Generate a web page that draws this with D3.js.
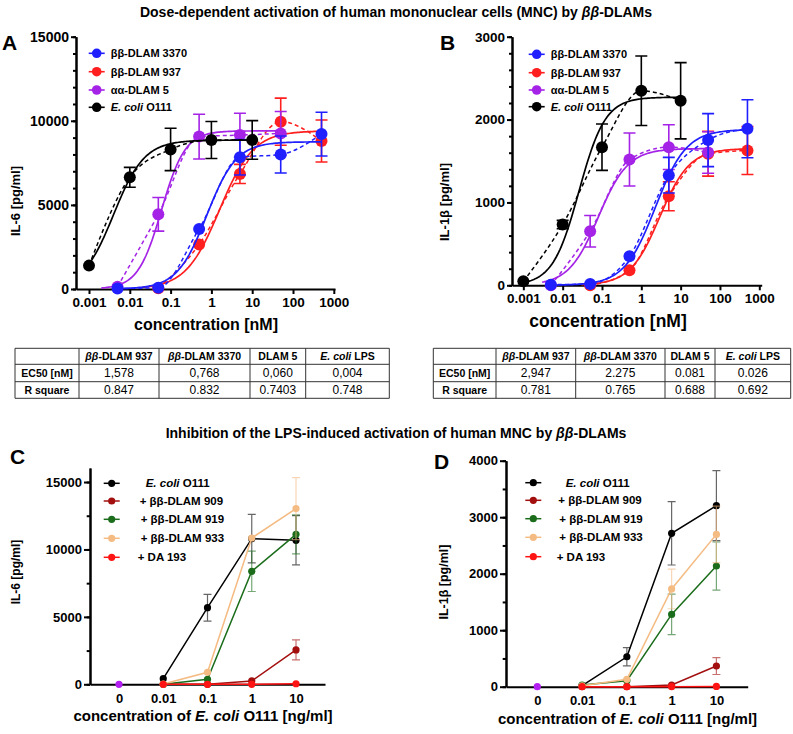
<!DOCTYPE html>
<html>
<head>
<meta charset="utf-8">
<script src="https://cdn.jsdelivr.net/npm/d3@7"></script>
<style>
  body { margin: 0; background: #fff; }
  svg { display: block; font-family: "Liberation Sans", Arial, sans-serif; }
</style>
</head>
<body>
<svg id="fig" width="793" height="734"></svg>
<script>
// ---------- data: panels A and B (dose response) ----------
const namesAB = ["ββ-DLAM 3370", "ββ-DLAM 937", " αα-DLAM 5", "E. coli O111"];
const colorsAB = ["#1f1fff", "#ff1f1f", "#a423e6", "#000000"];
const conc3370 = [0.005, 0.05, 0.5, 5, 50, 500];
const conc937 = [0.05, 0.5, 5, 50, 500];
const concD5 = [0.005, 0.05, 0.5, 5, 50];
const concEcoli = [0.001, 0.01, 0.1, 1, 10];
const xTicksAB = [0.001, 0.01, 0.1, 1, 10, 100, 1000];

// A: IL-6 [pg/ml]
const a3370 = [30, 80, 3570, 7830, 8000, 9210];
const a3370Err = [0, 0, 0, 1050, 1100, 1300];
const a937 = [40, 2650, 6840, 9950, 8800];
const a937Err = [0, 0, 570, 1400, 1250];
const aD5 = [140, 4440, 9060, 9150, 9250];
const aD5Err = [0, 1000, 1330, 1300, 1300];
const aEcoli = [1390, 6640, 8300, 8860, 8860];
const aEcoliErr = [0, 590, 1260, 1100, 1150];
// fitted sigmoid parameters (3370, 937, DLAM 5, E. coli)
const aTop = [8750, 9400, 9400, 8850];
const aEc50 = [0.768, 1.578, 0.060, 0.004];
const aHill = [1.2, 1.05, 1.5, 1.15];
const aFrom = [0.005, 0.02, 0.002, 0.001];
const aTo = [500, 500, 50, 10];

// B: IL-1β [pg/ml]
const b3370 = [8, 16, 350, 1329, 1752, 1889];
const b3370Err = [0, 0, 0, 215, 320, 350];
const b937 = [0, 181, 1075, 1587, 1627];
const b937Err = [0, 0, 175, 270, 290];
const bD5 = [0, 652, 1518, 1667, 1603];
const bD5Err = [0, 190, 320, 270, 250];
const bEcoli = [48, 733, 1667, 2348, 2227];
const bEcoliErr = [0, 50, 280, 420, 460];
const bTop = [1880, 1650, 1650, 2270];
const bEc50 = [2.275, 2.947, 0.081, 0.026];
const bHill = [1.1, 1.15, 1.15, 1.3];
const bFrom = [0.005, 0.03, 0.003, 0.001];
const bTo = [500, 500, 50, 10];

// tables under A and B
const tableCols = ["", "ββ-DLAM 937", "ββ-DLAM 3370", "DLAM 5", "E. coli LPS"];
const tableRows = ["EC50 [nM]", "R square"];
const tableA_ec50 = ["1,578", "0,768", "0,060", "0,004"];
const tableA_r2 = ["0.847", "0.832", "0.7403", "0.748"];
const tableB_ec50 = ["2,947", "2.275", "0.081", "0.026"];
const tableB_r2 = ["0.781", "0.765", "0.688", "0.692"];

// ---------- data: panels C and D (inhibition) ----------
const catsCD = ["0", "0.01", "0.1", "1", "10"];
const catsLps = ["0.01", "0.1", "1", "10"];
const namesCD = ["E. coli O111", "+ ββ-DLAM 909", "+ ββ-DLAM 919", "+ ββ-DLAM 933", "+ DA 193"];
const colorsCD = ["#000000", "#a30f0f", "#1b6d1b", "#f4bb83", "#ff1414"];
const ctrlColor = "#b21ff0";

const cEcoli = [420, 5680, 10800, 10680], cEcoliErr = [0, 990, 1800, 1830];
const c909 = [0, 0, 250, 2550], c909Err = [0, 0, 0, 740];
const c919 = [0, 370, 8380, 11120], c919Err = [0, 0, 1500, 1450];
const c933 = [20, 890, 10850, 13030], c933Err = [0, 0, 0, 2300];
const cDA = [0, 0, 0, 40], cDAErr = [0, 0, 0, 0];
const cCtrl = [0];

const dEcoli = [18, 530, 2714, 3204], dEcoliErr = [0, 160, 560, 620];
const d909 = [0, 0, 30, 366], d909Err = [0, 0, 0, 150];
const d919 = [30, 106, 1280, 2136], d919Err = [0, 0, 360, 425];
const d933 = [15, 130, 1730, 2696], d933Err = [0, 0, 350, 500];
const dDA = [0, 0, 0, 5], dDAErr = [0, 0, 0, 0];
const dCtrl = [0];

// ---------- helpers ----------
const svg = d3.select("#fig");
svg.append("rect").attr("width", 793).attr("height", 734).attr("fill", "#fff");

// writes text with ββ / E. coli parts in italics
function richText(sel, str, pattern) {
  str.split(pattern).forEach((part, i) => {
    if (!part) return;
    sel.append("tspan")
      .style("font-style", i % 2 === 1 ? "italic" : "normal")
      .text(part);
  });
}

function styleAxis(g, size) {
  g.select(".domain").attr("stroke", "#000").attr("stroke-width", 2);
  g.selectAll(".tick line").attr("stroke", "#000").attr("stroke-width", 2);
  g.selectAll(".tick text")
    .attr("fill", "#000")
    .style("font-size", size + "px")
    .style("font-weight", "bold");
}

function addText(x, y, str, size, opts = {}) {
  const t = svg.append("text")
    .attr("x", x).attr("y", y)
    .attr("text-anchor", opts.anchor || "start")
    .style("font-size", size + "px")
    .style("font-weight", opts.weight || "bold")
    .attr("fill", "#000");
  if (opts.rotate) t.attr("transform", `rotate(-90,${x},${y})`);
  richText(t, str, opts.pattern || /(ββ|E\. coli)/);
  return t;
}

const plain = d3.format("d");

// ---------- titles ----------
addText(396, 17, "Dose-dependent activation of human mononuclear cells (MNC) by ββ-DLAMs", 14, { anchor: "middle", pattern: /(ββ)/ });
addText(396, 438, "Inhibition of the LPS-induced activation of human MNC by ββ-DLAMs", 14, { anchor: "middle", pattern: /(ββ)/ });

// ---------- dose response panels ----------
function dosePanel(p) {
  const x = d3.scaleLog().domain(p.xDomain).range(p.xRange);
  const y = d3.scaleLinear().domain([0, p.yMax]).range(p.yRange);

  const gx = svg.append("g")
    .attr("transform", `translate(0,${p.yRange[0]})`)
    .call(d3.axisBottom(x).tickValues(xTicksAB).tickFormat(d => String(d)).tickSize(5).tickSizeOuter(0).tickPadding(3));
  styleAxis(gx, 13.5);

  const gyMinor = svg.append("g")
    .attr("transform", `translate(${p.xRange[0]},0)`)
    .call(d3.axisLeft(y).tickValues(d3.range(0, p.yMax + 1, p.yMinor)).tickFormat("").tickSize(3).tickSizeOuter(0));
  styleAxis(gyMinor, 12);
  const gy = svg.append("g")
    .attr("transform", `translate(${p.xRange[0]},0)`)
    .call(d3.axisLeft(y).tickValues(d3.range(0, p.yMax + 1, p.yMajor)).tickFormat(plain).tickSize(5).tickSizeOuter(0).tickPadding(2));
  styleAxis(gy, p.yFont);

  const solid = d3.line().x(d => x(d[0])).y(d => y(d[1]));
  const dashed = d3.line().curve(d3.curveMonotoneX).x(d => x(d[0])).y(d => y(d[1]));

  p.order.forEach(i => {
    const s = p.series[i];
    const g = svg.append("g");
    const samples = d3.range(121).map(k => {
      const c = s.from * Math.pow(s.to / s.from, k / 120);
      return [c, s.top / (1 + Math.pow(s.ec50 / c, s.hill))];
    });
    g.append("path").attr("d", solid(samples))
      .attr("fill", "none").attr("stroke", s.color).attr("stroke-width", 1.7);
    const pts = s.x.map((c, k) => [c, s.y[k]]);
    g.append("path").attr("d", dashed(pts))
      .attr("fill", "none").attr("stroke", s.color).attr("stroke-width", 1.5)
      .attr("stroke-dasharray", "4,3");
    s.x.forEach((c, k) => {
      if (!s.err[k]) return;
      const cx = x(c), y1 = y(s.y[k] + s.err[k]), y0 = y(s.y[k] - s.err[k]);
      g.append("path")
        .attr("d", `M${cx},${y0}V${y1}M${cx - 6},${y1}H${cx + 6}M${cx - 6},${y0}H${cx + 6}`)
        .attr("stroke", s.color).attr("stroke-width", 1.6).attr("fill", "none");
    });
    g.selectAll("circle").data(pts).join("circle")
      .attr("cx", d => x(d[0])).attr("cy", d => y(d[1]))
      .attr("r", 6).attr("fill", s.color);
  });

  // legend
  p.series.forEach((s, i) => {
    const ly = p.legY[i];
    svg.append("line")
      .attr("x1", p.legX - 8).attr("x2", p.legX + 8).attr("y1", ly).attr("y2", ly)
      .attr("stroke", s.color).attr("stroke-width", 1.6);
    svg.append("circle").attr("cx", p.legX).attr("cy", ly).attr("r", 4.8).attr("fill", s.color);
    addText(p.legX + 14, ly + 4, s.name, 11, { pattern: /(E\. coli)/ });
  });

  addText(p.letter[0], p.letter[1], p.letter[2], 21);
  addText(p.yLab[0], p.yLab[1], p.yLab[2], 13, { anchor: "middle", rotate: true });
  addText(p.xLab[0], p.xLab[1], "concentration [nM]", p.xLab[2], { anchor: "middle" });
}

function seriesAB(vals, errs, top, ec50, hill, from, to) {
  const xs = [conc3370, conc937, concD5, concEcoli];
  return namesAB.map((n, i) => ({
    name: n, color: colorsAB[i], x: xs[i], y: vals[i], err: errs[i],
    top: top[i], ec50: ec50[i], hill: hill[i], from: from[i], to: to[i]
  }));
}

dosePanel({
  xDomain: [0.001 * Math.pow(10, -13 / 40.8), 1000 * Math.pow(10, 1.2 / 40.8)],
  xRange: [76, 335], yRange: [289, 36.7], yMax: 15000, yMajor: 5000, yMinor: 1000, yFont: 14,
  series: seriesAB([a3370, a937, aD5, aEcoli], [a3370Err, a937Err, aD5Err, aEcoliErr], aTop, aEc50, aHill, aFrom, aTo),
  order: [1, 2, 0, 3],
  legX: 96.7, legY: [53.3, 71.7, 90, 107.3],
  letter: [2, 50, "A"], yLab: [20, 201, "IL-6 [pg/ml]"], xLab: [206, 330, 16]
});

dosePanel({
  xDomain: [0.001 * Math.pow(10, -11.3 / 39.2), 1000 * Math.pow(10, 2.4 / 39.2)],
  xRange: [512, 761.7], yRange: [285.3, 36.7], yMax: 3000, yMajor: 1000, yMinor: 200, yFont: 13.5,
  series: seriesAB([b3370, b937, bD5, bEcoli], [b3370Err, b937Err, bD5Err, bEcoliErr], bTop, bEc50, bHill, bFrom, bTo),
  order: [1, 2, 0, 3],
  legX: 536.7, legY: [54.3, 72.7, 90, 106.7],
  letter: [440, 50, "B"], yLab: [449, 202, "IL-1β [pg/ml]"], xLab: [608, 327, 17.5]
});

// ---------- tables ----------
function drawTable(colX, rowY, ec50, r2) {
  const g = svg.append("g");
  colX.forEach(cx => g.append("line").attr("x1", cx).attr("x2", cx)
    .attr("y1", rowY[0]).attr("y2", rowY[rowY.length - 1]).attr("stroke", "#333").attr("stroke-width", 1));
  rowY.forEach(ry => g.append("line").attr("x1", colX[0]).attr("x2", colX[colX.length - 1])
    .attr("y1", ry).attr("y2", ry).attr("stroke", "#333").attr("stroke-width", 1));
  const mid = k => (colX[k] + colX[k + 1]) / 2;
  const rmid = r => (rowY[r] + rowY[r + 1]) / 2;
  tableCols.forEach((c, k) => {
    if (c) addText(mid(k), rmid(0) + 3.8, c, 10.5, { anchor: "middle" });
  });
  tableRows.forEach((r, j) => {
    addText(mid(0), rmid(j + 1) + 3.8, r, 10.5, { anchor: "middle" });
    const vals = j === 0 ? ec50 : r2;
    vals.forEach((v, k) => addText(mid(k + 1), rmid(j + 1) + 4.2, v, 12, { anchor: "middle", weight: "normal" }));
  });
}
drawTable([15, 79, 159, 250, 305.7, 389.3], [348.3, 364.3, 381.7, 398.3], tableA_ec50, tableA_r2);
drawTable([433.3, 496, 575.7, 665, 715, 790.7], [348.3, 364.3, 381.7, 398.3], tableB_ec50, tableB_r2);

// ---------- inhibition panels ----------
function inhibPanel(p) {
  const x = d3.scalePoint().domain(catsCD).range(p.xRange).padding(p.pad);
  const y = d3.scaleLinear().domain([0, p.yTop]).range(p.yRange);

  const gx = svg.append("g")
    .attr("transform", `translate(0,${p.yRange[0]})`)
    .call(d3.axisBottom(x).tickSize(0).tickSizeOuter(0).tickPadding(9));
  styleAxis(gx, 13);

  const gyMinor = svg.append("g")
    .attr("transform", `translate(${p.xRange[0]},0)`)
    .call(d3.axisLeft(y).tickValues(d3.range(0, p.yMax + 1, p.yMinor)).tickFormat("").tickSize(3.3).tickSizeOuter(0));
  styleAxis(gyMinor, 12);
  const gy = svg.append("g")
    .attr("transform", `translate(${p.xRange[0]},0)`)
    .call(d3.axisLeft(y).tickValues(d3.range(0, p.yMax + 1, p.yMajor)).tickFormat(plain).tickSize(6).tickSizeOuter(0).tickPadding(2));
  styleAxis(gy, 13);

  const line = d3.line().x(d => x(d[0])).y(d => y(d[1]));
  p.series.forEach((s, i) => {
    const g = svg.append("g");
    const pts = catsLps.map((c, k) => [c, s.y[k]]);
    g.append("path").attr("d", line(pts)).attr("fill", "none")
      .attr("stroke", colorsCD[i]).attr("stroke-width", 1.5);
    pts.forEach((d, k) => {
      if (!s.err[k]) return;
      const cx = x(d[0]), y1 = y(d[1] + s.err[k]), y0 = y(d[1] - s.err[k]);
      g.append("path")
        .attr("d", `M${cx},${y0}V${y1}M${cx - 4},${y1}H${cx + 4}M${cx - 4},${y0}H${cx + 4}`)
        .attr("stroke", colorsCD[i]).attr("stroke-opacity", 0.6).attr("stroke-width", 1.2).attr("fill", "none");
    });
    g.selectAll("circle").data(pts).join("circle")
      .attr("cx", d => x(d[0])).attr("cy", d => y(d[1])).attr("r", 3.6).attr("fill", colorsCD[i]);
  });
  svg.append("circle").attr("cx", x(catsCD[0])).attr("cy", y(p.ctrl[0])).attr("r", 3.6).attr("fill", ctrlColor);

  namesCD.forEach((n, i) => {
    const ly = p.legY[i];
    svg.append("line").attr("x1", p.legX - 8).attr("x2", p.legX + 8).attr("y1", ly).attr("y2", ly)
      .attr("stroke", colorsCD[i]).attr("stroke-width", 1.5);
    svg.append("circle").attr("cx", p.legX).attr("cy", ly).attr("r", 3.6).attr("fill", colorsCD[i]);
    addText(p.legX + p.legDx[i], ly + 4, n, 11.5, { pattern: /(E\. coli)/ });
  });

  addText(p.letter[0], p.letter[1], p.letter[2], 21);
  addText(p.yLab[0], p.yLab[1], p.yLab[2], p.yLab[3], { anchor: "middle", rotate: true });
  addText(p.xLab[0], p.xLab[1], "concentration of E. coli O111 [ng/ml]", 15, { anchor: "middle", pattern: /(E\. coli)/ });
}

inhibPanel({
  xRange: [90, 325], pad: 0.655, yRange: [684.3, 468], yTop: 16040, yMax: 15000, yMajor: 5000, yMinor: 2500,
  series: [
    { y: cEcoli, err: cEcoliErr }, { y: c909, err: c909Err }, { y: c919, err: c919Err },
    { y: c933, err: c933Err }, { y: cDA, err: cDAErr }
  ],
  ctrl: cCtrl,
  legX: 111.7, legY: [483.3, 501, 519.3, 538.3, 557.3], legDx: [34, 28, 29, 29, 26],
  letter: [10, 463.5, "C"], yLab: [20, 572, "IL-6 [pg/ml]", 12], xLab: [203, 721]
});

inhibPanel({
  xRange: [506, 747.7], pad: 0.699, yRange: [686.7, 460.7], yTop: 4000, yMax: 4000, yMajor: 1000, yMinor: 500,
  series: [
    { y: dEcoli, err: dEcoliErr }, { y: d909, err: d909Err }, { y: d919, err: d919Err },
    { y: d933, err: d933Err }, { y: dDA, err: dDAErr }
  ],
  ctrl: dCtrl,
  legX: 533.3, legY: [482.7, 500.3, 518.7, 537.3, 556.7], legDx: [32.4, 25, 26, 26, 23.4],
  letter: [434, 469.3, "D"], yLab: [447.5, 582, "IL-1β [pg/ml]", 12.5], xLab: [627.5, 724]
});
</script>
</body>
</html>
